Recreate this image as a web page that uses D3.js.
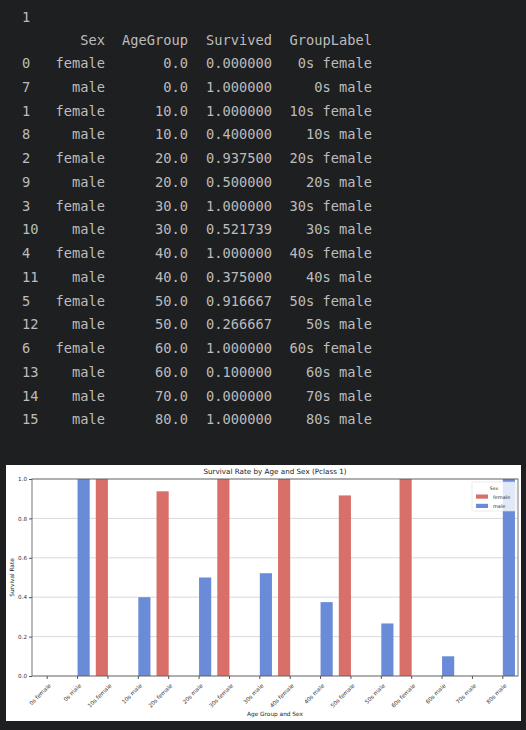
<!DOCTYPE html>
<html><head><meta charset="utf-8">
<script src="https://cdn.jsdelivr.net/npm/d3@7"></script>
<style>
html,body{margin:0;padding:0;background:#1e1f21;}
svg{display:block;}
</style></head>
<body>
<svg id="c" width="526" height="730"></svg>
<script>
// ---- data ----
const rowIndex   = [0, 7, 1, 8, 2, 9, 3, 10, 4, 11, 5, 12, 6, 13, 14, 15];
const sexes      = ["female","male","female","male","female","male","female","male","female","male","female","male","female","male","male","male"];
const ageGroups  = [0, 0, 10, 10, 20, 20, 30, 30, 40, 40, 50, 50, 60, 60, 70, 80];
const survived   = [0.0, 1.0, 1.0, 0.4, 0.9375, 0.5, 1.0, 0.521739, 1.0, 0.375, 0.916667, 0.266667, 1.0, 0.1, 0.0, 1.0];
const groupLabels= ["0s female","0s male","10s female","10s male","20s female","20s male","30s female","30s male","40s female","40s male","50s female","50s male","60s female","60s male","70s male","80s male"];
const hueOrder   = ["female","male"];
const yTicks     = [0.0, 0.2, 0.4, 0.6, 0.8, 1.0];
const colNames   = ["Sex","AgeGroup","Survived","GroupLabel"];

const svg = d3.select("#c");

// ---- dataframe text output ----
const tcol = "#bcbcbc";
const mono = "'DejaVu Sans Mono', monospace";
const fs = 13.7;
const tg = svg.append("g").attr("font-family", mono).attr("font-size", fs).attr("fill", tcol);
tg.append("text").attr("x", 22).attr("y", 22).text("1");
const colRight = [105, 188, 272, 372];
colNames.forEach((c, i) => {
  tg.append("text").attr("x", colRight[i]).attr("y", 45).attr("text-anchor", "end").text(c);
});
const rowY = i => 68 + i * 23.75;
rowIndex.forEach((r, i) => {
  const y = rowY(i);
  tg.append("text").attr("x", 22).attr("y", y).text(String(r));
  const cells = [sexes[i], ageGroups[i].toFixed(1), survived[i].toFixed(6), groupLabels[i]];
  cells.forEach((v, j) => {
    tg.append("text").attr("x", colRight[j]).attr("y", y).attr("text-anchor", "end").text(v);
  });
});

// ---- chart figure ----
svg.append("rect").attr("x", 6).attr("y", 465).attr("width", 515).attr("height", 256).attr("fill", "#ffffff");

const L = 32, R = 518, T = 479, B = 676;
const font = "'DejaVu Sans', sans-serif";
const x = d3.scaleBand().domain(groupLabels).range([L, R]).paddingInner(0).paddingOuter(0);
const y = d3.scaleLinear().domain([0, 1]).range([B, T]);
const color = d3.scaleOrdinal().domain(hueOrder).range(["#d96f69", "#6a8bd7"]);
const bw = x.bandwidth();

// grid
svg.append("g").selectAll("line").data(yTicks).join("line")
  .attr("x1", L).attr("x2", R).attr("y1", d => y(d)).attr("y2", d => y(d))
  .attr("stroke", "#cfcfcf").attr("stroke-width", 0.8);

// bars
const bars = groupLabels.map((g, i) => ({ g, sex: sexes[i], v: survived[i] }));
svg.append("g").selectAll("rect").data(bars).join("rect")
  .attr("x", d => x(d.g) + bw / 2 + (d.sex === "female" ? -0.4 * bw : 0))
  .attr("width", 0.4 * bw)
  .attr("y", d => y(d.v))
  .attr("height", d => B - y(d.v))
  .attr("fill", d => color(d.sex));

// spines
svg.append("rect").attr("x", L).attr("y", T).attr("width", R - L).attr("height", B - T)
  .attr("fill", "none").attr("stroke", "#555").attr("stroke-width", 0.8);

// y axis
const ya = d3.axisLeft(y).tickValues(yTicks).tickFormat(d3.format(".1f")).tickSize(3).tickPadding(2);
const yg = svg.append("g").attr("transform", `translate(${L},0)`).call(ya);
yg.select(".domain").remove();
yg.selectAll("line").attr("stroke", "#555");
yg.selectAll("text").attr("font-family", font).attr("font-size", 5.6).attr("fill", "#333");

// x axis
const xa = d3.axisBottom(x).tickSize(3).tickPadding(2);
const xg = svg.append("g").attr("transform", `translate(0,${B})`).call(xa);
xg.select(".domain").remove();
xg.selectAll("line").attr("stroke", "#555");
xg.selectAll("text")
  .attr("font-family", font).attr("font-size", 5.6).attr("fill", "#333")
  .attr("text-anchor", "end").attr("dy", null).attr("y", 0)
  .attr("transform", "translate(4,10) rotate(-45)");

// labels
svg.append("text").attr("x", (L + R) / 2).attr("y", 474).attr("text-anchor", "middle")
  .attr("font-family", font).attr("font-size", 7.2).attr("fill", "#222")
  .text("Survival Rate by Age and Sex (Pclass 1)");
svg.append("text").attr("x", (L + R) / 2).attr("y", 716).attr("text-anchor", "middle")
  .attr("font-family", font).attr("font-size", 5.8).attr("fill", "#222")
  .text("Age Group and Sex");
svg.append("text").attr("transform", `translate(14,${(T + B) / 2}) rotate(-90)`).attr("text-anchor", "middle")
  .attr("font-family", font).attr("font-size", 5.8).attr("fill", "#222")
  .text("Survival Rate");

// legend
const lg = svg.append("g").attr("transform", "translate(472,482)");
lg.append("rect").attr("width", 44).attr("height", 29).attr("rx", 1.5)
  .attr("fill", "#ffffff").attr("fill-opacity", 0.8).attr("stroke", "#dddddd").attr("stroke-width", 0.6);
lg.append("text").attr("x", 22).attr("y", 7.5).attr("text-anchor", "middle")
  .attr("font-family", font).attr("font-size", 4.6).attr("fill", "#333").text("Sex");
hueOrder.forEach((s, i) => {
  lg.append("rect").attr("x", 4).attr("y", 12.5 + i * 9.3).attr("width", 12).attr("height", 4.2).attr("fill", color(s));
  lg.append("text").attr("x", 21).attr("y", 16.5 + i * 9.3)
    .attr("font-family", font).attr("font-size", 5).attr("fill", "#333").text(s);
});
</script>
</body></html>
